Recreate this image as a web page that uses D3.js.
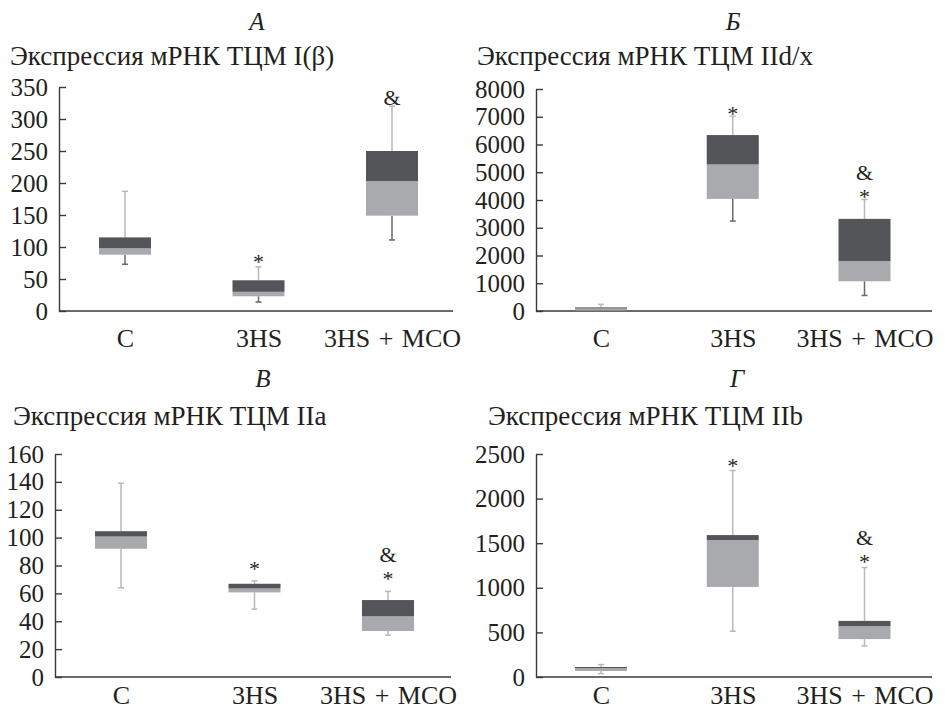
<!DOCTYPE html>
<html><head><meta charset="utf-8">
<script src="https://cdn.jsdelivr.net/npm/d3@7"></script>
</head>
<body style="margin:0"><svg id="c" width="945" height="710"></svg>
<script>
// ---------------- data ----------------
const categories = ["C", "3HS", "3HS + MCO"];
const panelLetters = ["А", "Б", "В", "Г"];
const panelSubtitles = ["Экспрессия мРНК ТЦМ I(β)", "Экспрессия мРНК ТЦМ IId/x", "Экспрессия мРНК ТЦМ IIa", "Экспрессия мРНК ТЦМ IIb"];

const ticksA = [0, 50, 100, 150, 200, 250, 300, 350];
const minA = [73, 14, 111];
const q1A  = [88, 23, 149];
const medA = [98, 30, 203];
const q3A  = [115, 48, 250];
const maxA = [187, 69, 320];
const marksA = [[], ["*"], ["&"]];

const ticksB = [0, 1000, 2000, 3000, 4000, 5000, 6000, 7000, 8000];
const minB = [0, 3240, 560];
const q1B  = [20, 4040, 1070];
const medB = [90, 5280, 1800];
const q3B  = [130, 6340, 3320];
const maxB = [240, 7020, 4020];
const marksB = [[], ["*"], ["*", "&"]];

const ticksV = [0, 20, 40, 60, 80, 100, 120, 140, 160];
const minV = [64, 48.7, 30];
const q1V  = [92, 60.7, 33];
const medV = [100.8, 63.5, 43.5];
const q3V  = [104.6, 66.9, 55.2];
const maxV = [139, 69, 61.4];
const marksV = [[], ["*"], ["*", "&"]];

const ticksG = [0, 500, 1000, 1500, 2000, 2500];
const minG = [38, 513, 348];
const q1G  = [67, 1010, 425];
const medG = [100, 1535, 570];
const q3G  = [112, 1591, 629];
const maxG = [139, 2315, 1228];
const marksG = [[], ["*"], ["*", "&"]];

// ---------------- layout ----------------
const FONT = '"Liberation Serif"';
const panels = [
  {ticks: ticksA, min: minA, q1: q1A, med: medA, q3: q3A, max: maxA, marks: marksA,
   ax: 59, y0: 311, yTop: 87, xEnd: 453, cx: [125, 392], titleX: 257, titleY: 30, subX: 10, subY: 65, labY: 347, gap: 9, lowDark: true},
  {ticks: ticksB, min: minB, q1: q1B, med: medB, q3: q3B, max: maxB, marks: marksB,
   ax: 536, y0: 311, yTop: 89, xEnd: 932, cx: [601, 864.5], titleX: 733, titleY: 30, subX: 477, subY: 65, labY: 347, gap: 6, lowDark: true},
  {ticks: ticksV, min: minV, q1: q1V, med: medV, q3: q3V, max: maxV, marks: marksV,
   ax: 55, y0: 677, yTop: 454, xEnd: 451, cx: [121, 388], titleX: 263, titleY: 387, subX: 13, subY: 425, labY: 704, gap: 16, lowDark: false},
  {ticks: ticksG, min: minG, q1: q1G, med: medG, q3: q3G, max: maxG, marks: marksG,
   ax: 536, y0: 677, yTop: 454, xEnd: 932, cx: [601, 864.5], titleX: 737, titleY: 387, subX: 488, subY: 425, labY: 704, gap: 9, lowDark: false}
];

const DARK = "#545559", LIGHT = "#a9aaae", WLIGHT = "#b9b9b9", WDARK = "#67686b", AXIS = "#3a3a3a", TXT = "#231f20";
const boxW = 52, capW = 6;
const svg = d3.select("#c");

panels.forEach((p, pi) => {
  const g = svg.append("g");
  const y = d3.scaleLinear().domain([0, d3.max(p.ticks)]).range([p.y0, p.yTop]);
  const x = d3.scalePoint().domain(categories).range(p.cx);

  const ya = g.append("g").attr("transform", `translate(${p.ax},0)`)
    .call(d3.axisLeft(y).tickValues(p.ticks).tickFormat(d3.format("d")).tickSizeInner(-7).tickSizeOuter(0).tickPadding(11));
  ya.attr("font-family", null).attr("font-size", null);
  ya.selectAll("path,line").attr("stroke", AXIS).attr("stroke-width", 1.4);
  ya.selectAll("text").style("font-family", FONT).attr("font-size", 25).attr("fill", TXT);

  const xa = g.append("g").attr("transform", `translate(0,${p.y0})`)
    .call(d3.axisBottom(x).tickSize(0).tickPadding(0));
  xa.attr("font-family", null).attr("font-size", null);
  xa.select(".domain").remove();
  xa.selectAll("text").style("font-family", FONT).attr("font-size", 26).attr("fill", TXT)
    .attr("dy", null).attr("y", p.labY - p.y0).attr("word-spacing", 2);
  g.append("line").attr("x1", p.ax).attr("x2", p.xEnd).attr("y1", y(0)).attr("y2", y(0))
    .attr("stroke", AXIS).attr("stroke-width", 1.6);

  svg.append("text").attr("x", p.titleX).attr("y", p.titleY).attr("text-anchor", "middle")
    .style("font-family", FONT).attr("font-size", 25).style("font-style", "italic").attr("fill", TXT).text(panelLetters[pi]);
  svg.append("text").attr("x", p.subX).attr("y", p.subY)
    .style("font-family", FONT).attr("font-size", 27).attr("fill", TXT).text(panelSubtitles[pi]);

  categories.forEach((c, i) => {
    const cx = x(c);
    const gb = g.append("g");
    gb.append("line").attr("x1", cx).attr("x2", cx).attr("y1", y(p.q3[i])).attr("y2", y(p.max[i]))
      .attr("stroke", WLIGHT).attr("stroke-width", 1.5);
    gb.append("line").attr("x1", cx - capW / 2).attr("x2", cx + capW / 2).attr("y1", y(p.max[i])).attr("y2", y(p.max[i]))
      .attr("stroke", WLIGHT).attr("stroke-width", 1.5);
    const lc = p.lowDark ? WDARK : WLIGHT;
    gb.append("line").attr("x1", cx).attr("x2", cx).attr("y1", y(p.q1[i])).attr("y2", y(p.min[i]))
      .attr("stroke", lc).attr("stroke-width", 1.5);
    gb.append("line").attr("x1", cx - capW / 2).attr("x2", cx + capW / 2).attr("y1", y(p.min[i])).attr("y2", y(p.min[i]))
      .attr("stroke", lc).attr("stroke-width", 1.5);
    gb.append("rect").attr("x", cx - boxW / 2).attr("width", boxW)
      .attr("y", y(p.med[i])).attr("height", Math.max(0, y(p.q1[i]) - y(p.med[i])))
      .attr("fill", LIGHT);
    gb.append("rect").attr("x", cx - boxW / 2).attr("width", boxW)
      .attr("y", y(p.q3[i])).attr("height", Math.max(0, y(p.med[i]) - y(p.q3[i])))
      .attr("fill", DARK);
    p.marks[i].forEach((m, k) => {
      const centerY = y(p.max[i]) - p.gap - k * 21;
      svg.append("text").attr("x", cx).attr("y", centerY + (m === "*" ? 11 : 8))
        .attr("text-anchor", "middle").style("font-family", FONT).attr("font-size", 22).attr("fill", TXT).text(m);
    });
  });
});
</script></body></html>
